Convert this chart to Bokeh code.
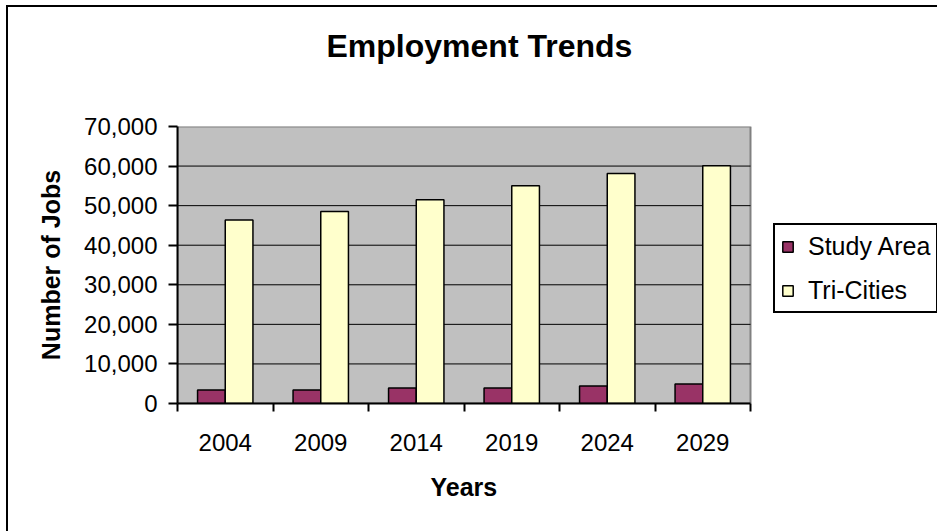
from bokeh.plotting import figure
from bokeh.models import (ColumnDataSource, FixedTicker, NumeralTickFormatter, Legend,
                          LegendItem, Range1d, Title)
from bokeh.transform import dodge
from bokeh.embed import file_html
from bokeh.resources import INLINE

# ---- data ----
years = ["2004", "2009", "2014", "2019", "2024", "2029"]
study_area = [3400, 3400, 3900, 3900, 4400, 4900]
tri_cities = [46400, 48500, 51500, 55000, 58100, 60100]
y_ticks = [0, 10000, 20000, 30000, 40000, 50000, 60000, 70000]
series_names = ["Study Area", "Tri-Cities"]
title_text = "Employment Trends"
x_title = "Years"
y_title = "Number of Jobs"

FONT = "Liberation Sans"
C_STUDY = "#993366"
C_TRI = "#FFFFCC"

W, H = 937, 531
PLOT_L, PLOT_R = 177, 750          # pixel extent of the grey plot area
n = len(years)
x_end = n * (W - PLOT_L) / (PLOT_R - PLOT_L)   # frame runs on to the right edge (legend lives there)

pos = [i + 0.5 for i in range(n)]
src = ColumnDataSource(dict(x=pos, study=study_area, tri=tri_cities))

p = figure(width=W, height=H, output_backend="svg", toolbar_location=None,
           x_range=Range1d(0, x_end), y_range=Range1d(y_ticks[0], y_ticks[-1]),
           min_border_left=PLOT_L, min_border_right=0, min_border_top=126,
           min_border_bottom=128)

p.background_fill_color = "white"
p.border_fill_color = None
p.outline_line_color = None
p.grid.visible = False

# outer chart border on the left and top
p.styles = {
    "background": ("linear-gradient(#000,#000) 6px 5px / 2px calc(100% - 5px) no-repeat, "
                   "linear-gradient(#000,#000) 6px 5px / calc(100% - 6px) 2px no-repeat, #fff"),
}

# grey plot area
p.quad(left=0, right=n, bottom=y_ticks[0], top=y_ticks[-1],
       fill_color="#C0C0C0", line_color="#808080", line_width=2)

# horizontal gridlines limited to the plot area
inner = y_ticks[1:-1]
p.segment(x0=[0] * len(inner), x1=[n] * len(inner), y0=inner, y1=inner,
          line_color="black", line_width=1)

# bars
r1 = p.vbar(x=dodge("x", -0.145), top="study", width=0.29, source=src,
            fill_color=C_STUDY, line_color="black", line_width=1.5)
r2 = p.vbar(x=dodge("x", 0.145), top="tri", width=0.29, source=src,
            fill_color=C_TRI, line_color="black", line_width=1.5)

# x axis
xa = p.xaxis[0]
xa.bounds = (0, n)
xa.ticker = FixedTicker(ticks=pos, minor_ticks=list(range(n + 1)))
xa.major_label_overrides = {pv: y for pv, y in zip(pos, years)}
xa.major_tick_out = 0
xa.major_tick_in = 0
xa.minor_tick_out = 8
xa.minor_tick_in = 0
xa.minor_tick_line_color = "black"
xa.minor_tick_line_width = 2
xa.axis_line_color = "black"
xa.axis_line_width = 2
xa.major_label_text_font = FONT
xa.major_label_text_font_size = "24px"
xa.major_label_text_color = "black"
xa.major_label_standoff = 22

# x axis title, centred under the grey plot area
p.add_layout(Title(text=x_title, align="left", offset=253, standoff=34,
                   text_font=FONT, text_font_size="25px", text_font_style="bold",
                   text_color="black"), "below")

# y axis
ya = p.yaxis[0]
ya.ticker = FixedTicker(ticks=y_ticks)
ya.formatter = NumeralTickFormatter(format="0,0")
ya.major_tick_out = 9
ya.major_tick_in = 0
ya.major_tick_line_color = "black"
ya.major_tick_line_width = 2
ya.minor_tick_line_color = None
ya.axis_line_color = "black"
ya.axis_line_width = 2
ya.major_label_text_font = FONT
ya.major_label_text_font_size = "24px"
ya.major_label_text_color = "black"
ya.major_label_standoff = 11
ya.axis_label = y_title
ya.axis_label_text_font = FONT
ya.axis_label_text_font_size = "25px"
ya.axis_label_text_font_style = "bold"
ya.axis_label_text_color = "black"
ya.axis_label_standoff = 16

# title (a blank second line lifts it towards the top of the chart)
p.title.text = title_text + "\n "
p.title.text_font = FONT
p.title.text_font_size = "32px"
p.title.text_font_style = "bold"
p.title.text_color = "black"
p.title.align = "left"
p.title.offset = 149
p.title.vertical_align = "top"
p.title.standoff = 50

# legend (inside the frame, to the right of the grey area)
legend = Legend(items=[LegendItem(label=series_names[0], renderers=[r1]),
                       LegendItem(label=series_names[1], renderers=[r2])],
                location=(596, 90), orientation="vertical")
legend.label_text_font = FONT
legend.label_text_font_size = "25px"
legend.label_text_color = "black"
legend.label_height = 30
legend.glyph_width = 13
legend.glyph_height = 13
legend.label_standoff = 14
legend.padding = 6
legend.spacing = 14
legend.margin = 0
legend.border_line_color = "black"
legend.border_line_alpha = 1
legend.border_line_width = 2
legend.background_fill_color = "white"
legend.background_fill_alpha = 1
p.add_layout(legend, "center")

open("out.html", "w").write(file_html(p, INLINE))
